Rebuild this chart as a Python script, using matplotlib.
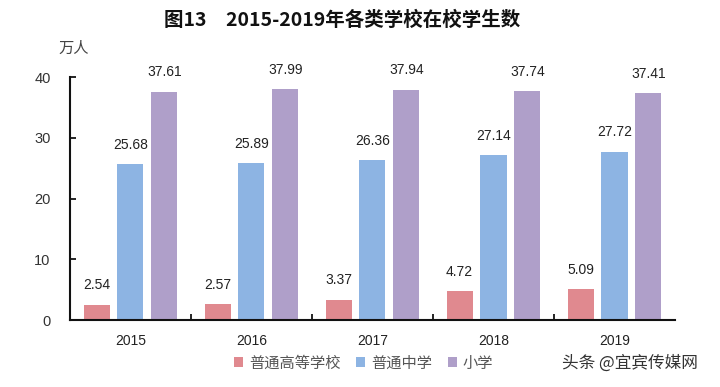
import numpy as np
import matplotlib.pyplot as plt

plt.rcParams["font.family"] = ["Noto Sans CJK SC", "DejaVu Sans"]

years = ["2015", "2016", "2017", "2018", "2019"]
higher_edu = [2.54, 2.57, 3.37, 4.72, 5.09]
middle_school = [25.68, 25.89, 26.36, 27.14, 27.72]
primary_school = [37.61, 37.99, 37.94, 37.74, 37.41]
series_names = ["普通高等学校", "普通中学", "小学"]
colors = ["#E0898F", "#8DB4E3", "#AF9FC9"]

fig = plt.figure(figsize=(7.2, 3.87), dpi=100)
ax = fig.add_axes([0.0972, 0.173, 0.8403, 0.628])

x = np.arange(len(years))
width = 0.215
offset = 0.28
num_font = "Liberation Sans"
for i, (vals, name, c) in enumerate(zip([higher_edu, middle_school, primary_school], series_names, colors)):
    xs = x + (i - 1) * offset
    ax.bar(xs, vals, width, color=c, label=name)
    for xi, v in zip(xs, vals):
        ax.text(xi, v + 2.0, f"{v:.2f}", ha="center", va="bottom", fontsize=10,
                family=num_font, color="#222222")

ax.set_xlim(-0.5, len(years) - 0.5)
ax.set_ylim(0, 40)
ax.set_yticks([0, 10, 20, 30, 40])
ax.set_yticklabels(["0", "10", "20", "30", "40"], family=num_font, fontsize=10.5, color="#333333")
ax.set_xticks(x)
ax.set_xticklabels(years, family=num_font, fontsize=10, color="#222222")
ax.set_xticks(np.arange(0.5, len(years) - 0.5, 1), minor=True)
ax.tick_params(axis="x", which="major", length=0, pad=10)
ax.tick_params(axis="x", which="minor", direction="in", length=4, width=1.2)
ax.tick_params(axis="y", direction="in", length=4, width=1.2, pad=14)
for s in ["top", "right"]:
    ax.spines[s].set_visible(False)
for s in ["left", "bottom"]:
    ax.spines[s].set_linewidth(1.5)
    ax.spines[s].set_color("#111111")

fig.text(0.475, 0.948, "图13　2015-2019年各类学校在校学生数", ha="center", va="center",
         fontsize=14, fontweight="bold", color="#111111")
fig.text(0.103, 0.875, "万人", ha="center", va="center", fontsize=11, color="#444444")

fig.legend(loc="center", bbox_to_anchor=(0.505, 0.062), ncol=3, frameon=False,
           fontsize=11, handlelength=0.6, handleheight=0.6, handletextpad=0.4,
           columnspacing=1.0, labelcolor="#555555")
fig.text(0.875, 0.062, "头条 @宜宾传媒网", ha="center", va="center", fontsize=12, color="#333333")

fig.savefig("out.png", dpi=100)
